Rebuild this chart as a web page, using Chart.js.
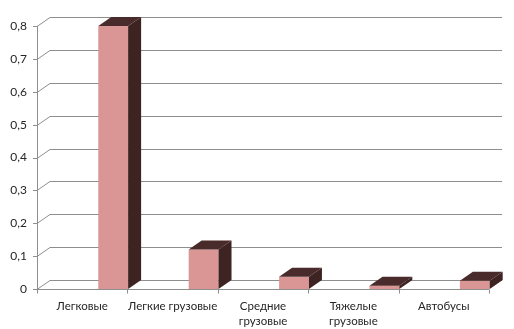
<!DOCTYPE html>
<html>
<head>
<meta charset="utf-8">
<script src="https://cdn.jsdelivr.net/npm/chart.js@4"></script>
<style>
  body { margin: 0; background: #fff; }
  #wrap { width: 514px; height: 329px; position: relative; }
</style>
</head>
<body>
<div id="wrap"><canvas id="chart"></canvas></div>
<script>
const categories = [
  ["Легковые"],
  ["Легкие грузовые"],
  ["Средние", "грузовые"],
  ["Тяжелые", "грузовые"],
  ["Автобусы"]
];
const values = [0.8, 0.12, 0.037, 0.01, 0.025];
const yTicks = [0, 0.1, 0.2, 0.3, 0.4, 0.5, 0.6, 0.7, 0.8];

// 3d look
const DX = 13, DY = -9;
const SHIFT = 31;
const gridColor = "#8e8e8e";
const frontColor = "#d99694";
const topColor = "#4a2b2b";
const sideColor = "#3e2323";

const fakeDepth = {
  id: "fakeDepth",
  beforeDatasetsDraw(chart) {
    const ctx = chart.ctx;
    const y = chart.scales.y;
    const a = chart.chartArea;
    ctx.save();
    ctx.strokeStyle = gridColor;
    ctx.lineWidth = 1;
    ctx.beginPath();
    yTicks.forEach(v => {
      const py = Math.round(y.getPixelForValue(v)) + 0.5;
      ctx.moveTo(a.left + DX, py + DY);
      ctx.lineTo(a.right + DX, py + DY);
      ctx.moveTo(a.left, py);
      ctx.lineTo(a.left + DX, py + DY);
      ctx.moveTo(a.left - 4, py);
      ctx.lineTo(a.left, py);
    });
    // y axis
    ctx.moveTo(a.left + 0.5, Math.round(y.getPixelForValue(0.8)));
    ctx.lineTo(a.left + 0.5, Math.round(y.getPixelForValue(0)) + 0.5);
    // floor front edge
    const by = Math.round(y.getPixelForValue(0)) + 0.5;
    ctx.moveTo(a.left, by);
    ctx.lineTo(a.right, by);
    const w = (a.right - a.left) / categories.length;
    for (let i = 0; i <= categories.length; i++) {
      const px = Math.round(a.left + i * w) + 0.5;
      ctx.moveTo(px, by);
      ctx.lineTo(px, by + 4);
    }
    ctx.stroke();
    ctx.restore();

    ctx.save();
    ctx.translate(SHIFT, 0);
  },
  afterDatasetsDraw(chart) {
    const ctx = chart.ctx;
    const meta = chart.getDatasetMeta(0);
    meta.data.forEach(bar => {
      const p = bar.getProps(["x", "y", "base", "width"], true);
      const l = p.x - p.width / 2, r = p.x + p.width / 2;
      ctx.fillStyle = topColor;
      ctx.beginPath();
      ctx.moveTo(l, p.y);
      ctx.lineTo(l + DX, p.y + DY);
      ctx.lineTo(r + DX, p.y + DY);
      ctx.lineTo(r, p.y);
      ctx.closePath();
      ctx.fill();
      ctx.fillStyle = sideColor;
      ctx.beginPath();
      ctx.moveTo(r, p.y);
      ctx.lineTo(r + DX, p.y + DY);
      ctx.lineTo(r + DX, p.base + DY);
      ctx.lineTo(r, p.base);
      ctx.closePath();
      ctx.fill();
    });
    ctx.restore();
  }
};

new Chart(document.getElementById("chart"), {
  type: "bar",
  data: {
    labels: categories,
    datasets: [{
      data: values,
      backgroundColor: frontColor,
      borderWidth: 0,
      barPercentage: 0.33,
      categoryPercentage: 1,
      clip: false
    }]
  },
  options: {
    responsive: true,
    maintainAspectRatio: false,
    animation: false,
    layout: { padding: { top: 26, right: 25, left: 0, bottom: 0 } },
    plugins: { legend: { display: false }, tooltip: { enabled: false } },
    scales: {
      x: {
        grid: { display: false, drawTicks: false },
        border: { display: false },
        ticks: {
          color: "#262626",
          font: { family: "Lato", size: 11.5, lineHeight: 1.3 },
          maxRotation: 0,
          autoSkip: false,
          padding: 10
        },
        afterFit(scale) { scale.height = 40; }
      },
      y: {
        min: 0,
        max: 0.8,
        grid: { display: false, drawTicks: false },
        border: { display: false },
        ticks: {
          stepSize: 0.1,
          color: "#262626",
          font: { family: "Lato", size: 12 },
          padding: 10,
          callback: v => v === 0 ? "0" : v.toFixed(1).replace(".", ",")
        },
        afterFit(scale) { scale.width = 37; }
      }
    }
  },
  plugins: [fakeDepth]
});
</script>
</body>
</html>
